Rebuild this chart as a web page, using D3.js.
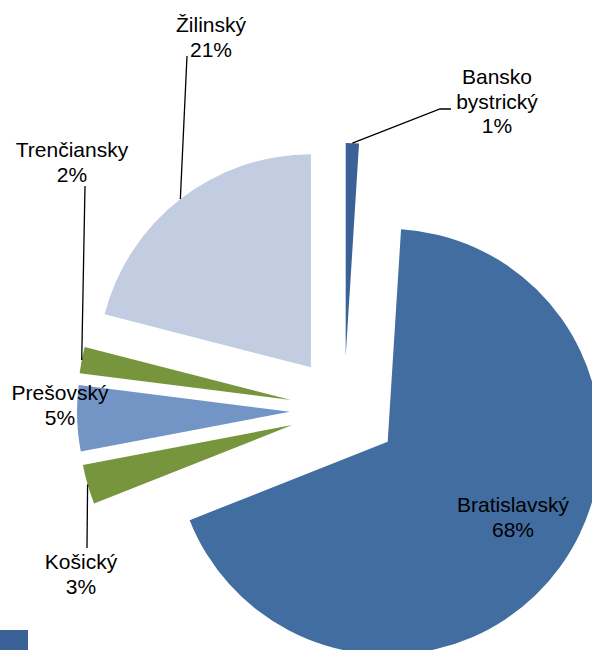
<!DOCTYPE html>
<html>
  <head>
    <meta charset="UTF-8">
    <title>Kraje</title>
    <style>
      body { margin: 0; background: #fff; }
      svg { display: block; }
      text { font-family: "Liberation Sans", Arial, sans-serif; font-size: 21px; fill: #000; }
    </style>
  </head>
  <body>
    <script src="https://d3js.org/d3.v7.min.js"></script>
    <svg width="592" height="650" id="chart"></svg>
    <script>
      // data, clockwise from 12 o'clock
      var regions = ["Bansko bystrický", "Bratislavský", "Košický", "Prešovský", "Trenčiansky", "Žilinský"];
      var shares = [1, 68, 3, 5, 2, 21];
      var colors = ["#3b6296", "#426da0", "#76953d", "#7295c6", "#76953d", "#c2cde2"];

      // label layout: text anchor point (first baseline) and leader bend points
      var labelAt = [[497, 84], [513, 512], [81, 569], [60, 400], [72, 157], [211, 32]];
      var leaderTo = [[[440, 109], [451, 109]], null, [[87, 548]], null, [[85, 186]], [[187, 56]]];

      var svg = d3.select("#chart"),
          cx = 344, cy = 410,
          radius = 213,
          explode = 54;

      var pie = d3.pie().sort(null).value(function(d) { return d; });
      var arc = d3.arc().innerRadius(0).outerRadius(radius);

      var slices = pie(shares);

      // offset of each slice along its bisector
      function shift(d) {
        var a = (d.startAngle + d.endAngle) / 2;
        return [cx + explode * Math.sin(a), cy - explode * Math.cos(a)];
      }

      var g = svg.append("g");

      g.selectAll("path")
        .data(slices)
        .enter()
        .append("path")
        .attr("transform", function(d) { var p = shift(d); return "translate(" + p[0] + "," + p[1] + ")"; })
        .attr("fill", function(d, i) { return colors[i]; })
        .attr("d", arc);

      // leader lines from the middle of each outer arc
      slices.forEach(function(d, i) {
        if (!leaderTo[i]) return;
        var a = (d.startAngle + d.endAngle) / 2,
            p = shift(d),
            start = [p[0] + radius * Math.sin(a), p[1] - radius * Math.cos(a)];
        svg.append("path")
          .attr("d", d3.line()([start].concat(leaderTo[i])))
          .attr("fill", "none")
          .attr("stroke", "#000")
          .attr("stroke-width", 1.3);
      });

      // labels: name (may wrap) + percent
      slices.forEach(function(d, i) {
        var lines = regions[i].split(" ").concat([shares[i] + "%"]);
        var t = svg.append("text")
          .attr("text-anchor", "middle")
          .attr("x", labelAt[i][0])
          .attr("y", labelAt[i][1]);
        lines.forEach(function(s, k) {
          t.append("tspan")
            .attr("x", labelAt[i][0])
            .attr("dy", k === 0 ? 0 : 24.5)
            .text(s);
        });
      });

      // legend key, cut off at the bottom of the frame
      svg.append("rect")
        .attr("x", 0).attr("y", 630)
        .attr("width", 28).attr("height", 20)
        .attr("fill", colors[0]);
    </script>
  </body>
</html>
